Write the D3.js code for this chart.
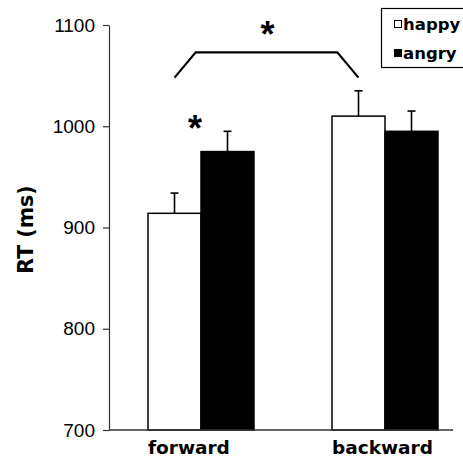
<!DOCTYPE html>
<html><head><meta charset="utf-8">
<script src="https://cdn.jsdelivr.net/npm/d3@7"></script>
<style>body{margin:0;background:#fff}svg{display:block}</style>
</head><body><svg id="c" width="463" height="458"></svg>
<script>
// ---- data ----
const categories = ["forward", "backward"];
const seriesNames = ["happy", "angry"];
const happyMeans = [914, 1010];
const angryMeans = [975, 995];
const happyErrors = [20, 25];
const angryErrors = [20, 20];
const yTicks = [700, 800, 900, 1000, 1100];
const bracketValues = [1048, 1073];   // low end, top of bracket
const starValues = [1005, 1098];      // within-forward star, between-condition star

// ---- layout ----
const svg = d3.select("#c");
const axisX = 109, plotTop = 25, plotBottom = 430, axisRight = 453;

const y = d3.scaleLinear().domain([700, 1100]).range([plotBottom, plotTop]);
const x0 = d3.scaleBand().domain(categories).range([axisX, 477])
  .paddingInner(0.424).paddingOuter(0.212);
const x1 = d3.scaleBand().domain(seriesNames).range([0, x0.bandwidth()]);

const rows = [];
categories.forEach((c, i) => {
  rows.push({cat: c, s: "happy", v: happyMeans[i], e: happyErrors[i]});
  rows.push({cat: c, s: "angry", v: angryMeans[i], e: angryErrors[i]});
});
const fill = {happy: "#fff", angry: "#000"};

// bars
svg.append("g").selectAll("rect").data(rows).join("rect")
  .attr("x", d => x0(d.cat) + x1(d.s))
  .attr("y", d => y(d.v))
  .attr("width", x1.bandwidth())
  .attr("height", d => y(700) - y(d.v))
  .attr("fill", d => fill[d.s])
  .attr("stroke", "#000").attr("stroke-width", 1.5);

// error bars
const eb = svg.append("g").attr("stroke", "#000").attr("stroke-width", 1.6);
rows.forEach(d => {
  const cx = x0(d.cat) + x1(d.s) + x1.bandwidth() / 2;
  eb.append("line").attr("x1", cx).attr("x2", cx).attr("y1", y(d.v)).attr("y2", y(d.v + d.e));
  eb.append("line").attr("x1", cx - 4).attr("x2", cx + 4).attr("y1", y(d.v + d.e)).attr("y2", y(d.v + d.e));
});

// y axis
const ya = svg.append("g").attr("transform", `translate(${axisX},0)`)
  .call(d3.axisLeft(y).tickValues(yTicks).tickSize(6).tickSizeOuter(0).tickPadding(8).tickFormat(d3.format("d")));
ya.selectAll("path,line").attr("stroke", "#333").attr("stroke-width", 1.2);
ya.selectAll("text").attr("font-family", "Liberation Sans, Arial, sans-serif")
  .attr("font-size", 19).attr("fill", "#000");

// x axis line
svg.append("line").attr("x1", axisX).attr("x2", axisRight)
  .attr("y1", y(700)).attr("y2", y(700)).attr("stroke", "#333").attr("stroke-width", 1.4);

// x labels
svg.append("g").selectAll("text").data(categories).join("text")
  .attr("x", d => x0(d)).attr("y", 454)
  .attr("font-family", "DejaVu Sans, sans-serif").attr("font-weight", "bold")
  .attr("font-size", 18.5).text(d => d);

// y label
svg.append("text").attr("transform", `translate(33,${(plotTop + plotBottom) / 2 + 2}) rotate(-90)`)
  .attr("text-anchor", "middle")
  .attr("font-family", "DejaVu Sans, sans-serif").attr("font-weight", "bold")
  .attr("font-size", 20.5).text("RT (ms)");

// bracket
const hc = c => x0(c) + x1("happy") + x1.bandwidth() / 2;
const inset = x1.bandwidth() * 0.4;
const bx = [hc("forward"), hc("backward")];
svg.append("path")
  .attr("d", d3.line()([
    [bx[0], y(bracketValues[0])], [bx[0] + inset, y(bracketValues[1])],
    [bx[1] - inset, y(bracketValues[1])], [bx[1], y(bracketValues[0])]
  ]))
  .attr("fill", "none").attr("stroke", "#000").attr("stroke-width", 2.2);

// stars
const starSize = 36;
const starX = [x0("forward") + x1("angry") - 6, (bx[0] + bx[1]) / 2 + 1];
svg.append("g").selectAll("text").data(starValues).join("text")
  .attr("x", (d, i) => starX[i]).attr("y", d => y(d) + starSize * 0.55)
  .attr("text-anchor", "middle")
  .attr("font-family", "Liberation Sans, Arial, sans-serif").attr("font-weight", "bold")
  .attr("font-size", starSize).text("*");

// legend
const lg = svg.append("g");
lg.append("rect").attr("x", 381.5).attr("y", 8.5).attr("width", 100).attr("height", 59)
  .attr("fill", "#fff").attr("stroke", "#000").attr("stroke-width", 1.2);
seriesNames.forEach((s, i) => {
  const cy = 24 + i * 29;
  lg.append("rect").attr("x", 394.5).attr("y", cy - 3.5).attr("width", 7).attr("height", 7)
    .attr("fill", fill[s]).attr("stroke", "#000").attr("stroke-width", 1);
  lg.append("text").attr("x", 403).attr("y", cy + 6)
    .attr("font-family", "DejaVu Sans, sans-serif").attr("font-weight", "bold")
    .attr("font-size", 16.5).text(s);
});
</script></body></html>
